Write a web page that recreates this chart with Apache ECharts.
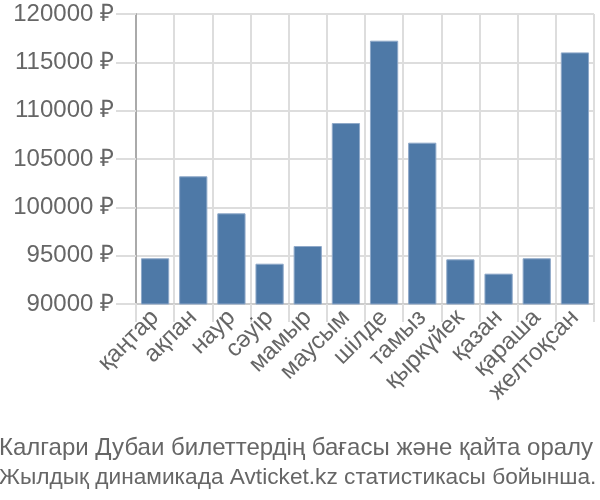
<!DOCTYPE html>
<html><head><meta charset="utf-8">
<script src="https://cdn.jsdelivr.net/npm/echarts@6/dist/echarts.min.js"></script>
<style>html,body{margin:0;padding:0;background:#fff}#c{width:600px;height:500px}</style>
</head><body><div id="c"></div>
<script>
const categories = ['қаңтар','ақпан','наур','сәуір','мамыр','маусым','шілде','тамыз','қыркүйек','қазан','қараша','желтоқсан'];
const prices = [94730, 103210, 99380, 94170, 96000, 108720, 117240, 106690, 94620, 93140, 94730, 116030];
const yTicks = [90000, 95000, 100000, 105000, 110000, 115000, 120000];
const titleLines = ['Калгари Дубаи билеттердің бағасы және қайта оралу', 'Жылдық динамикада Avticket.kz статистикасы бойынша.'];

const chart = echarts.init(document.getElementById('c'), null, {renderer:'canvas'});
const font = 'Liberation Sans, Arial, sans-serif';
chart.setOption({
  animation:false,
  textStyle:{fontFamily:font},
  title:{
    text: '{a|' + titleLines[0] + '}\n{b|' + titleLines[1] + '}',
    left:-6, top:428,
    textStyle:{
      fontFamily:font, fontWeight:'normal', color:'#666',
      rich:{
        a:{fontFamily:font, fontSize:24, color:'#666', lineHeight:30},
        b:{fontFamily:font, fontSize:22.7, color:'#666', lineHeight:30}
      }
    }
  },
  grid:{left:136, right:6, top:14, bottom:196, containLabel:false},
  xAxis:{
    type:'category', data:categories,
    axisLine:{show:true, lineStyle:{color:'#ccc', width:2}},
    axisTick:{show:true, length:18, alignWithLabel:false, lineStyle:{color:'#ddd', width:2}},
    splitLine:{show:true, lineStyle:{color:'#ddd', width:2}},
    axisLabel:{rotate:45, fontSize:24, color:'#666', fontFamily:font, margin:10, interval:0}
  },
  yAxis:{
    type:'value', min:yTicks[0], max:yTicks[yTicks.length-1], interval:5000,
    axisLine:{show:true, lineStyle:{color:'#aaa', width:2}},
    axisTick:{show:true, length:20, lineStyle:{color:'#ddd', width:2}},
    splitLine:{show:true, lineStyle:{color:'#ddd', width:2}},
    axisLabel:{fontSize:24, color:'#666', fontFamily:font, margin:22, formatter:v=>v+' ₽'}
  },
  series:[{
    type:'bar', data:prices, barCategoryGap:'26%',
    itemStyle:{color:'#4e79a7', borderColor:'#8fa9c9', borderWidth:1}
  }]
});
</script></body></html>
